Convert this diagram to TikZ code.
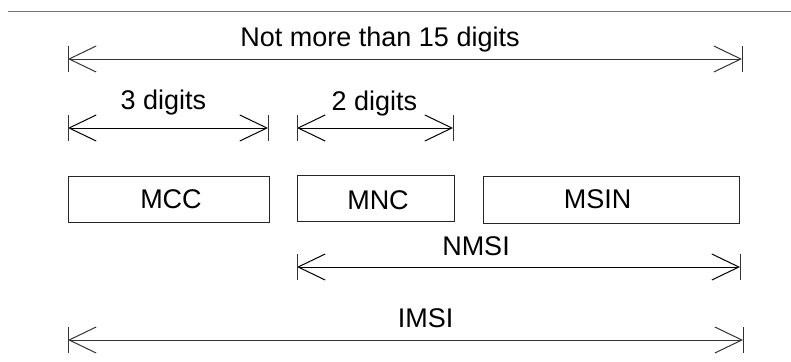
\documentclass[tikz,border=0pt]{standalone}
\usepackage{fontspec}
\setmainfont{Liberation Sans}
\usetikzlibrary{arrows.meta}
\begin{document}
\begin{tikzpicture}[x=1pt,y=-1pt,
  lbl/.style={font=\fontsize{27}{30}\selectfont, inner sep=0pt, anchor=base},
  box/.style={draw=black!85, line width=1pt, inner sep=0pt},
  dimline/.style={line width=1pt, {Straight Barb[length=27pt,width=26pt,line width=1pt]}-{Straight Barb[length=27pt,width=26pt,line width=1pt]}},
  tick/.style={line width=1pt},
  rule/.style={draw=black!55, line width=1.3pt}]
\useasboundingbox (0,0) rectangle (791,361);
% top rule
\coordinate (r1) at (8,11.5);
\coordinate (r2) at (791,11.5);
\draw[rule] (r1) -- (r2);
% dimension end points
\coordinate (t1) at (68,59);   \coordinate (t2) at (742,59);
\coordinate (c1) at (68,128);  \coordinate (c2) at (268,128);
\coordinate (n1) at (297,128); \coordinate (n2) at (453,128);
\coordinate (s1) at (297,267); \coordinate (s2) at (740,267);
\coordinate (i1) at (68,340);  \coordinate (i2) at (743,340);
% boxes
\node[box, minimum width=201pt, minimum height=46pt] (mcc) at (168.5,199) {};
\node[box, minimum width=157pt, minimum height=46pt] (mnc) at (375.5,198) {};
\node[box, minimum width=256pt, minimum height=47pt] (msin) at (611,199.5) {};
\node[lbl] (mcct) at (171,208) {MCC};
\node[lbl] (mnct) at (378,209) {MNC};
\node[lbl] (msint) at (597.5,208) {MSIN};
% dimension lines
\draw[dimline, draw=black!80] (t1) -- (t2);
\draw[dimline] (c1) -- (c2);
\draw[dimline] (n1) -- (n2);
\draw[dimline] (s1) -- (s2);
\draw[dimline, draw=black!80] (i1) -- (i2);
% end ticks
\foreach \p in {t1,t2,c1,c2,n1,n2,s1,s2,i1,i2}
  \draw[tick, black!80] ([yshift=-13pt]\p) -- ([yshift=13pt]\p);
% labels
\node[lbl] (tl) at (380,47) {Not more than 15 digits};
\node[lbl] (cl) at (163.5,109) {3 digits};
\node[lbl] (nl) at (374.5,110) {2 digits};
\node[lbl] (sl) at (476,255) {NMSI};
\node[lbl] (il) at (425.5,327) {IMSI};
\end{tikzpicture}
\end{document}
